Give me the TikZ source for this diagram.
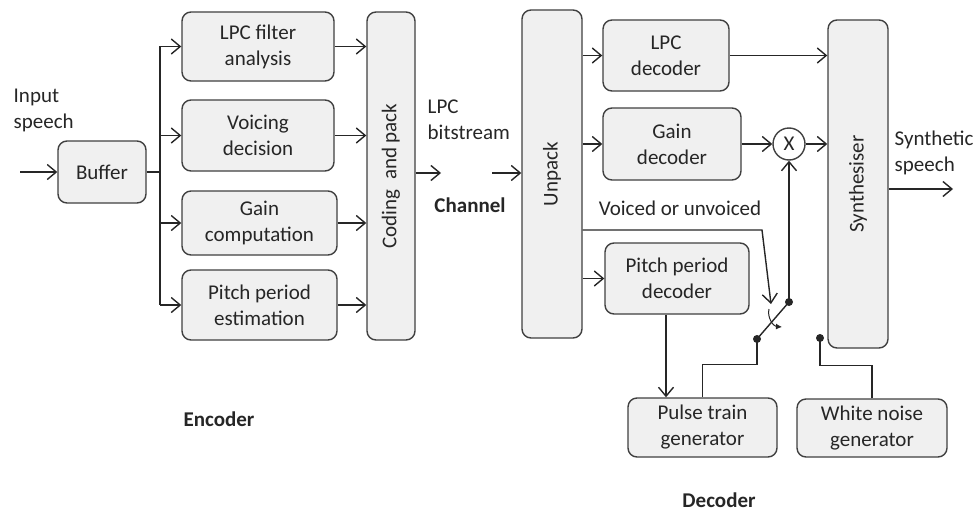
\documentclass[tikz,border=0pt]{standalone}
\usepackage{fontspec}
\setmainfont{Carlito}
\usetikzlibrary{arrows.meta}
\tikzset{
  blk/.style={draw=black!75, fill=black!6, line width=1.4pt, rounded corners=9pt, align=center, inner sep=0pt},
  lbl/.style={align=left, inner sep=0pt},
  hdr/.style={font=\fontsize{21}{26}\selectfont\bfseries, inner sep=0pt},
}
\begin{document}
\begin{tikzpicture}[x=1pt, y=-1pt, font=\fontsize{21}{26}\selectfont, line width=1.4pt, color=black!85,
  >={Straight Barb[length=9pt,width=15pt]}]
\useasboundingbox (0,0) rectangle (976,511);
% encoder
\node[lbl, anchor=west] (inlbl) at (13,110) {Input\\speech};
\coordinate (in) at (20,172);
\node[blk, minimum width=88pt, minimum height=62pt] (buf) at (102,172) {Buffer};
\node[blk, minimum width=152pt, minimum height=69pt] (lpcf) at (258,46.5) {LPC filter\\analysis};
\node[blk, minimum width=152pt, minimum height=71pt] (voic) at (258,135.5) {Voicing\\decision};
\node[blk, minimum width=155pt, minimum height=64pt] (gainc) at (259.5,223) {Gain\\computation};
\node[blk, minimum width=155pt, minimum height=70pt] (pest) at (259.5,305) {Pitch period\\estimation};
\node[blk, minimum width=48pt, minimum height=328pt] (code) at (391,176) {};
\node[rotate=90] (codet) at (code) {Coding\ \ and pack};
\node[hdr] (enc) at (219,419) {Encoder};
\coordinate (br) at (160,172);
\draw[->] (in) -- (buf);
\draw (buf) -- (br);
\draw (br |- lpcf) -- (br |- pest);
\foreach \b in {lpcf,voic,gainc,pest}
{
  \draw[->] (br |- \b) -- (\b);
  \draw[->] (\b) -- (\b -| code.west);
}
% channel
\node[lbl, anchor=west] (bits) at (427,120) {LPC\\bitstream};
\node[hdr] (chan) at (470,205) {Channel};
\coordinate (chA) at (441,173);
\coordinate (chB) at (492,173);
% decoder
\node[blk, minimum width=60pt, minimum height=328pt] (unp) at (552,174) {};
\node[rotate=90] (unpt) at (unp) {Unpack};
\node[blk, minimum width=126pt, minimum height=71pt] (lpcd) at (666,55.5) {LPC\\decoder};
\node[blk, minimum width=138pt, minimum height=72pt] (gaind) at (672,144) {Gain\\decoder};
\node[blk, minimum width=144pt, minimum height=71pt] (pdec) at (677,278.5) {Pitch period\\decoder};
\node[draw=black!75, fill=white, circle, minimum size=32pt, inner sep=0pt] (mult) at (789,144) {X};
\node[blk, minimum width=60pt, minimum height=328pt] (syn) at (858,184) {};
\node[rotate=90] (synt) at (syn) {Synthesiser};
\node[lbl, anchor=west] (outlbl) at (894,153) {Synthetic\\speech};
\node[blk, minimum width=149pt, minimum height=59pt] (pulse) at (702.5,427.5) {Pulse train\\generator};
\node[blk, minimum width=150pt, minimum height=58pt] (noise) at (872,428) {White noise\\generator};
\node[lbl] (vlbl) at (680,208) {Voiced or unvoiced};
\node[hdr] (dec) at (719,500) {Decoder};
\coordinate (out) at (953,189);
\coordinate (vbend) at (762,230);
\coordinate (vtip) at (771,304);
\coordinate (pdown) at (666,0);
\coordinate (sw1) at (789,302);
\coordinate (sw2) at (757,339);
\coordinate (sw3) at (820,338);
\coordinate (arcA) at (769,309);
\coordinate (arcB) at (782,327);
\draw[->] (code.east |- chA) -- (chA);
\draw[->] (chB) -- (chB -| unp.west);
\foreach \b in {lpcd,gaind,pdec}
{
  \draw[->] (unp.east |- \b) -- (\b);
}
\draw[->] (lpcd) -- (lpcd -| syn.west);
\draw[->] (gaind) -- (mult);
\draw[->] (mult) -- (mult -| syn.west);
\draw[->] (syn.east |- out) -- (out);
\draw[->] (unp.east |- vbend) -- (vbend) -- (vtip);
\draw[->] (pdec.south -| pdown) -- (pulse.north -| pdown);
\draw (pulse.north) -- ++(0,-33) -| (sw2);
\draw (noise.north) -- ++(0,-33) -| (sw3);
\draw (sw2) -- (sw1);
\draw[->] (sw1) -- (mult);
\draw[-{Latex[length=6pt,width=6pt]}, line width=1pt] (arcA) to[bend right=50] (arcB);
\foreach \c in {sw1,sw2,sw3}
{
  \fill (\c) circle (4pt);
}
\end{tikzpicture}
\end{document}
